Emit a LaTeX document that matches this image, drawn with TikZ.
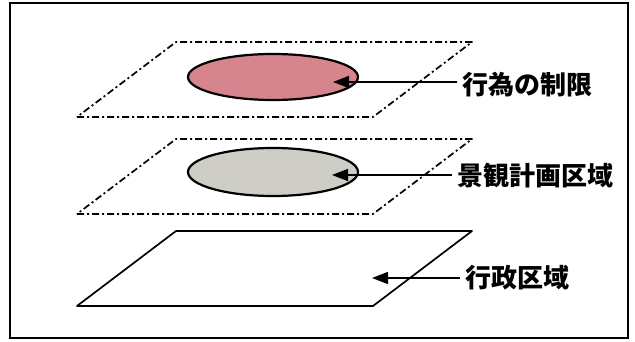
\documentclass[tikz,border=0pt]{standalone}
\usepackage{fontspec}
\newfontfamily\jpfont{Noto Sans CJK JP}
\usetikzlibrary{arrows.meta}
\definecolor{limitPink}{RGB}{214,132,142}
\definecolor{planGray}{RGB}{206,206,198}

\begin{document}
\begin{tikzpicture}[x=1pt,y=-1pt,%%
  frameStyle/.style={line width=1.6pt},%%
  planeStyle/.style={line width=1.7pt,line join=round},%%
  dashPlaneStyle/.style={planeStyle,dash pattern=on 7pt off 3pt on 2pt off 3pt},%%
  areaStyle/.style={line width=2.2pt},%%
  arrowStyle/.style={-{Triangle[length=16pt,width=12pt]},line width=1.6pt},%%
  labelStyle/.style={font=\jpfont\bfseries\fontsize{26}{26}\selectfont,anchor=west,inner xsep=5pt,inner ysep=0pt}%%
]
%%
%%
\pgfmathsetmacro{\xlow}{77}
\pgfmathsetmacro{\xskew}{99}
\pgfmathsetmacro{\side}{296}
\pgfmathsetmacro{\depth}{75}
%%
\useasboundingbox (0,0) rectangle (635,342);
%%
%% The outer frame.
\draw[frameStyle] (10,3) rectangle (628,338);
%%
%% The top plane.
\draw[dashPlaneStyle] (\xlow,117) -- ++(\side,0) -- ++(\xskew,-\depth)
  -- ++(-\side,0) -- cycle;
%% The area of the limits.
\draw[areaStyle,fill=limitPink] (273,77) ellipse [x radius=85,y radius=23];
%%
%% The middle plane.
\draw[dashPlaneStyle] (\xlow,214) -- ++(\side,0) -- ++(\xskew,-\depth)
  -- ++(-\side,0) -- cycle;
%% The area of the plan.
\draw[areaStyle,fill=planGray] (273,172) ellipse [x radius=85,y radius=24];
%%
%% The bottom plane.
\draw[planeStyle] (\xlow,306) -- ++(\side,0) -- ++(\xskew,-\depth)
  -- ++(-\side,0) -- cycle;
%%
%% Labels and their arrows.
\coordinate (limitTip) at (333,82);
\node[labelStyle] (limitLabel) at (457,85) {行為の制限};
\draw[arrowStyle] (limitLabel.west |- limitTip) -- (limitTip);
%%
\coordinate (planTip) at (332,175);
\node[labelStyle] (planLabel) at (452,176) {景観計画区域};
\draw[arrowStyle] (planLabel.west |- planTip) -- (planTip);
%%
\coordinate (adminTip) at (372,278);
\node[labelStyle] (adminLabel) at (460,278) {行政区域};
\draw[arrowStyle] (adminLabel.west |- adminTip) -- (adminTip);
\end{tikzpicture}
\end{document}
